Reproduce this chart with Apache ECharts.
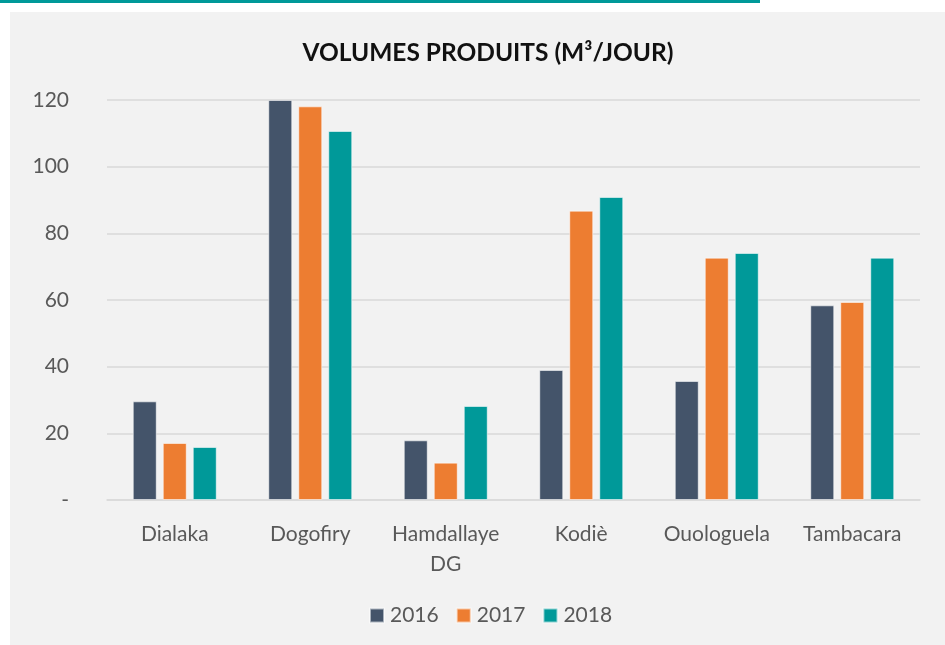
<!DOCTYPE html>
<html>
<head>
<meta charset="utf-8">
<script src="https://cdn.jsdelivr.net/npm/echarts@6/dist/echarts.min.js"></script>
<style>
  html, body { margin: 0; padding: 0; background: #fff; }
  #topline { position: absolute; left: 0; top: 0; width: 760px; height: 3px; background: #009999; }
  #panel { position: absolute; left: 10px; top: 12px; width: 935px; height: 633px; background: #f2f2f2; }
  #main { position: absolute; left: 0; top: 0; width: 945px; height: 645px; }
</style>
</head>
<body>
<div id="topline"></div>
<div id="panel"></div>
<div id="main"></div>
<script>
const categories = ['Dialaka', 'Dogofiry', 'Hamdallaye\nDG', 'Kodiè', 'Ouologuela', 'Tambacara'];
const years = ['2016', '2017', '2018'];
const values2016 = [29.6, 120, 17.9, 39, 35.7, 58.4];
const values2017 = [17.1, 118.1, 11.2, 86.8, 72.7, 59.4];
const values2018 = [15.9, 110.7, 28.2, 90.9, 74.1, 72.7];
const palette = ['#44546a', '#ed7d31', '#009999'];

const fontFamily = 'Lato, "Open Sans", sans-serif';
const textColor = '#595959';

const chart = echarts.init(document.getElementById('main'), null, { renderer: 'canvas' });

const seriesData = [values2016, values2017, values2018];

chart.setOption({
  backgroundColor: 'transparent',
  animation: false,
  color: palette,
  title: {
    text: 'VOLUMES PRODUITS (M³/JOUR)',
    left: 483,
    top: 36,
    textAlign: 'center',
    textStyle: { fontFamily, fontSize: 24.5, fontWeight: 'bold', color: '#111' }
  },
  legend: {
    data: years,
    left: 364,
    top: 600,
    itemWidth: 14,
    itemHeight: 14,
    itemGap: 17,
    icon: 'rect',
    textStyle: { fontFamily, fontSize: 21, color: textColor, padding: [0, 0, 0, 1] }
  },
  grid: { left: 107, right: 25, top: 100, bottom: 145 },
  xAxis: {
    type: 'category',
    data: categories,
    axisTick: { show: false },
    axisLine: { lineStyle: { color: '#d9d9d9', width: 1.5 } },
    axisLabel: {
      fontFamily, fontSize: 21, color: textColor, margin: 19, lineHeight: 30, interval: 0
    }
  },
  yAxis: {
    type: 'value',
    min: 0,
    max: 120,
    interval: 20,
    axisLine: { show: false },
    axisTick: { show: false },
    splitLine: { lineStyle: { color: '#d9d9d9', width: 1.5 } },
    axisLabel: {
      fontFamily, fontSize: 21, color: textColor, margin: 38,
      formatter: (v) => (v === 0 ? '-' : String(v))
    }
  },
  series: years.map((y, i) => ({
    name: y,
    type: 'bar',
    data: seriesData[i],
    barWidth: 24,
    barGap: '25%',
    itemStyle: { color: palette[i], borderColor: 'rgba(255,255,255,0.55)', borderWidth: 1 }
  }))
});
</script>
</body>
</html>
